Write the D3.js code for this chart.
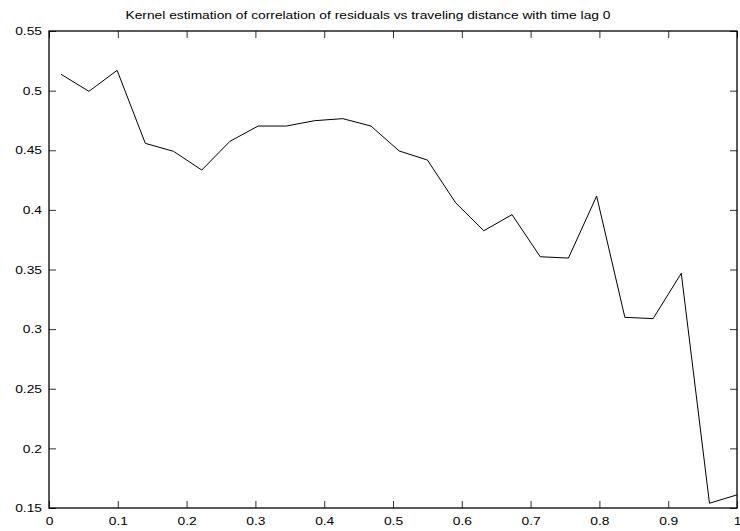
<!DOCTYPE html>
<html>
<head>
<meta charset="utf-8">
<script src="https://cdn.jsdelivr.net/npm/d3@7"></script>
<style>
  body { margin: 0; background: #fff; }
  svg text { font-family: "Liberation Sans", Arial, sans-serif; font-size: 11.5px; fill: #000; }
</style>
</head>
<body>
<div class="chart"></div>
<script>
var titleText = 'Kernel estimation of correlation of residuals vs traveling distance with time lag 0'

var distance = [0.0175, 0.058, 0.099, 0.140, 0.181, 0.222, 0.263, 0.304, 0.345, 0.386,
  0.427, 0.468, 0.509, 0.550, 0.591, 0.632, 0.673, 0.714, 0.755, 0.796,
  0.837, 0.878, 0.919, 0.960, 1.0]
var correlation = [0.5137, 0.4994, 0.517, 0.4558, 0.4491, 0.4334, 0.4575, 0.4703, 0.4703, 0.4748,
  0.4765, 0.4703, 0.4494, 0.4418, 0.406, 0.3825, 0.396, 0.3607, 0.3596, 0.4116,
  0.3099, 0.3088, 0.3468, 0.154, 0.161]

var xTicks = [0, 0.1, 0.2, 0.3, 0.4, 0.5, 0.6, 0.7, 0.8, 0.9, 1]
var yTicks = [0.15, 0.2, 0.25, 0.3, 0.35, 0.4, 0.45, 0.5, 0.55]

var width = 740
var height = 531
var margin = { top: 31, right: 3, bottom: 23, left: 49 }
var innerW = width - margin.left - margin.right
var innerH = height - margin.top - margin.bottom
var stretchX = 1.2

var svg = d3.select('.chart').append('svg')
  .attr('width', width)
  .attr('height', height)

var scaleX = d3.scaleLinear().domain([0, 1]).range([0, innerW])
var scaleY = d3.scaleLinear().domain([0.15, 0.55]).range([innerH, 0])

// the source renders its text a bit wide, so stretch around the anchor point
function stretch(sel) {
  sel.attr('transform', function () {
    var x = +d3.select(this).attr('x') || 0
    return 'translate(' + x + ',0) scale(' + stretchX + ',1) translate(' + (-x) + ',0)'
  })
}

svg.append('text')
  .attr('x', 368)
  .attr('y', 19)
  .style('text-anchor', 'middle')
  .text(titleText)
  .call(stretch)

var g = svg.append('g')
  .attr('transform', 'translate(' + margin.left + ',' + margin.top + ')')

// inward ticks on all four sides
var fmt = function (d) { return String(d) }

g.append('g')
  .attr('transform', 'translate(0,' + innerH + ')')
  .call(d3.axisBottom(scaleX).tickValues(xTicks).tickFormat(fmt).tickSizeInner(-7).tickSizeOuter(0).tickPadding(9))
g.append('g')
  .call(d3.axisTop(scaleX).tickValues(xTicks).tickFormat('').tickSizeInner(-7).tickSizeOuter(0))
g.append('g')
  .call(d3.axisLeft(scaleY).tickValues(yTicks).tickFormat(fmt).tickSizeInner(-7).tickSizeOuter(0).tickPadding(7))
g.append('g')
  .attr('transform', 'translate(' + innerW + ',0)')
  .call(d3.axisRight(scaleY).tickValues(yTicks).tickFormat('').tickSizeInner(-7).tickSizeOuter(0))

g.selectAll('.domain').remove()
g.selectAll('.tick line').attr('stroke', '#333')
g.selectAll('.tick text')
  .attr('fill', '#000')
  .style('font-family', '"Liberation Sans", Arial, sans-serif')
  .style('font-size', '11.5px')
  .call(stretch)

g.append('rect')
  .attr('x', 0)
  .attr('y', 0)
  .attr('width', innerW)
  .attr('height', innerH)
  .attr('fill', 'none')
  .attr('stroke', '#000')
  .attr('stroke-width', 1.3)

var points = distance.map(function (d, i) { return [d, correlation[i]] })

var line = d3.line()
  .x(function (d) { return scaleX(d[0]) })
  .y(function (d) { return scaleY(d[1]) })

g.append('path')
  .datum(points)
  .attr('d', line)
  .attr('fill', 'none')
  .attr('stroke', '#000')
  .attr('stroke-width', 1)
</script>
</body>
</html>
